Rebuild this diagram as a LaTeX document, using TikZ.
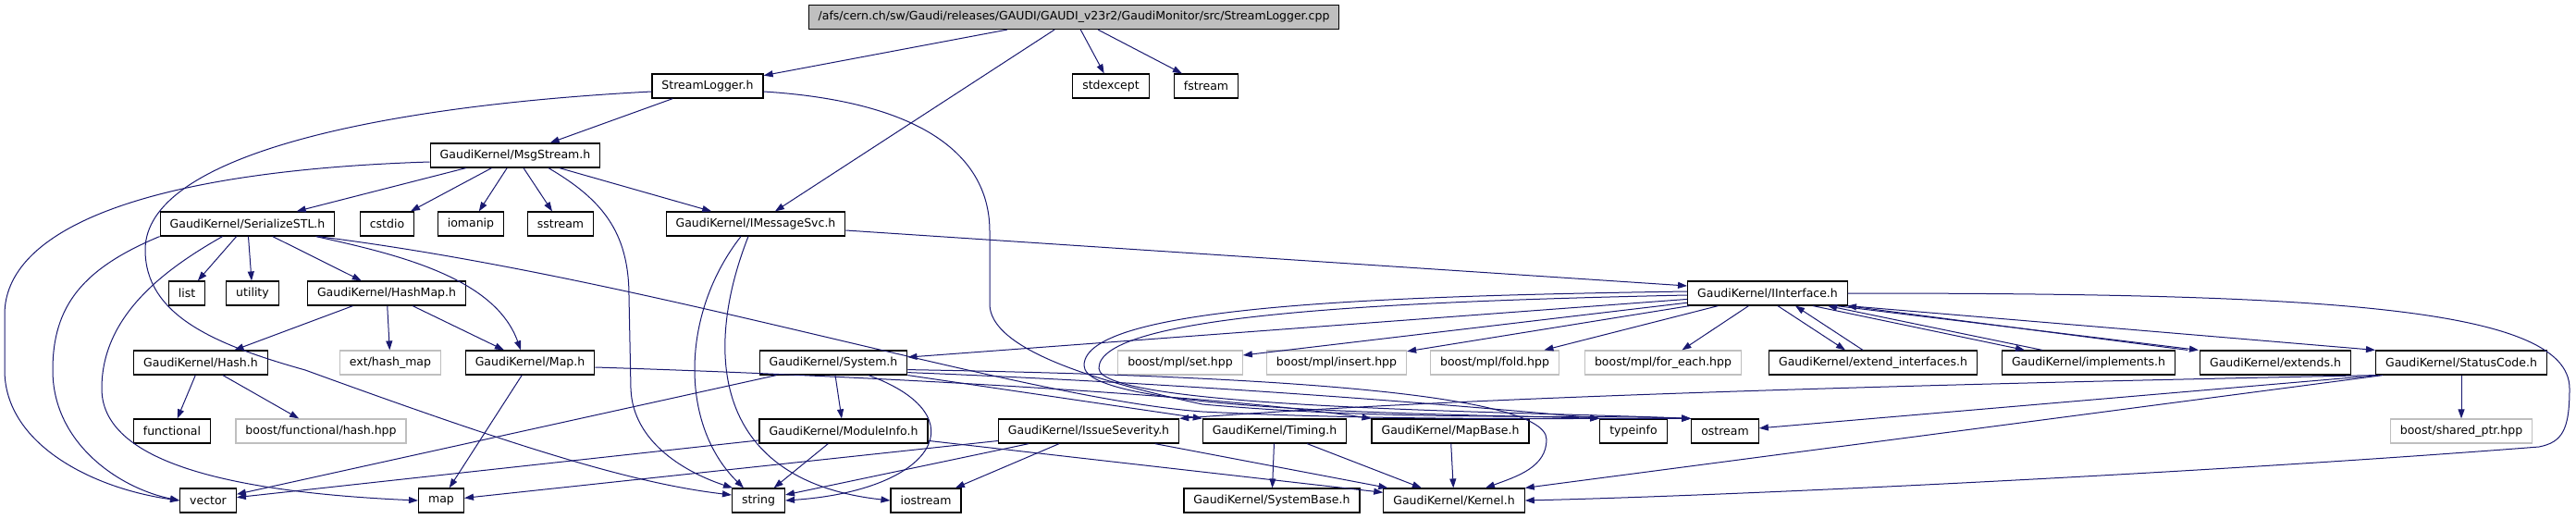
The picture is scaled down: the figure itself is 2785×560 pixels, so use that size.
\documentclass[tikz,border=0pt]{standalone}
\usepackage{fontspec}
\setmainfont{DejaVu Sans}
\usetikzlibrary{arrows.meta}
\definecolor{edgeblue}{HTML}{191970}
\definecolor{boxgray}{HTML}{BFBFBF}
\tikzset{
  hdr/.style={draw=black, fill=white, line width=1.2pt, rectangle, minimum height=26pt,
    inner xsep=10.5pt, inner ysep=0pt, font=\fontsize{12.5}{15}\selectfont},
  syshdr/.style={hdr, draw=boxgray},
  srcfile/.style={hdr, fill=boxgray},
  inc/.style={draw=edgeblue, line width=1pt, -{Triangle[length=10pt,width=7pt]}},
}
\begin{document}
\begin{tikzpicture}[x=1pt,y=-1pt]
\useasboundingbox (0,0) rectangle (2785,560);

\node[srcfile] (root) at (1161,18.5) {/afs/cern.ch/sw/Gaudi/releases/GAUDI/GAUDI\_v23r2/GaudiMonitor/src/StreamLogger.cpp};
\node[hdr] (slh) at (765,93) {StreamLogger.h};
\node[hdr] (stdexcept) at (1201,93) {stdexcept};
\node[hdr] (fstream) at (1304,93) {fstream};
\node[hdr] (msg) at (557,168) {GaudiKernel/MsgStream.h};
\node[hdr] (ser) at (267.5,242) {GaudiKernel/SerializeSTL.h};
\node[hdr] (cstdio) at (418.5,242) {cstdio};
\node[hdr] (iomanip) at (509,242) {iomanip};
\node[hdr] (sstream) at (606,242) {sstream};
\node[hdr] (msvc) at (817,242) {GaudiKernel/IMessageSvc.h};
\node[hdr] (list) at (202,317) {list};
\node[hdr] (utility) at (273,317) {utility};
\node[hdr] (hashmap) at (418,317) {GaudiKernel/HashMap.h};
\node[hdr] (iint) at (1911,317) {GaudiKernel/IInterface.h};
\node[hdr] (hash) at (217,392) {GaudiKernel/Hash.h};
\node[syshdr] (exthm) at (422,392) {ext/hash\_map};
\node[hdr] (mapH) at (573,392) {GaudiKernel/Map.h};
\node[hdr] (sys) at (901,392) {GaudiKernel/System.h};
\node[syshdr] (mplset) at (1276,392) {boost/mpl/set.hpp};
\node[syshdr] (mplins) at (1445,392) {boost/mpl/insert.hpp};
\node[syshdr] (mplfold) at (1616,392) {boost/mpl/fold.hpp};
\node[syshdr] (mplfe) at (1798,392) {boost/mpl/for\_each.hpp};
\node[hdr] (extif) at (2025,392) {GaudiKernel/extend\_interfaces.h};
\node[hdr] (impl) at (2258,392) {GaudiKernel/implements.h};
\node[hdr] (ext) at (2460,392) {GaudiKernel/extends.h};
\node[hdr] (sc) at (2661,392) {GaudiKernel/StatusCode.h};
\node[hdr] (functional) at (186,466) {functional};
\node[syshdr] (bfh) at (347,466) {boost/functional/hash.hpp};
\node[hdr] (modinfo) at (912,466) {GaudiKernel/ModuleInfo.h};
\node[hdr] (issue) at (1177,466) {GaudiKernel/IssueSeverity.h};
\node[hdr] (timing) at (1378,466) {GaudiKernel/Timing.h};
\node[hdr] (mapbase) at (1568,466) {GaudiKernel/MapBase.h};
\node[hdr] (typeinfo) at (1766,466) {typeinfo};
\node[hdr] (ostream) at (1865,466) {ostream};
\node[syshdr] (bsp) at (2661,466) {boost/shared\_ptr.hpp};
\node[hdr] (vector) at (225,541) {vector};
\node[hdr] (stdmap) at (477,541) {map};
\node[hdr] (string) at (820,541) {string};
\node[hdr] (iostream) at (1001,541) {iostream};
\node[hdr] (sysbase) at (1375,541) {GaudiKernel/SystemBase.h};
\node[hdr] (kernel) at (1572,541) {GaudiKernel/Kernel.h};

\draw[inc] (root) -- (slh);
\draw[inc] (root) -- (msvc);
\draw[inc] (root) -- (stdexcept);
\draw[inc] (root) -- (fstream);

\draw[inc] (slh) -- (msg);
\draw[inc] ([yshift=-6pt]slh.west) .. controls (400,115) and (157,170) .. (157,270) .. controls (157,340) and (230,372) .. (330,400) .. controls (550,480) and (680,522) .. ([yshift=6pt]string.west);
\draw[inc] ([yshift=-6pt]slh.east) .. controls (1000,110) and (1070,170) .. (1070,250) -- (1070,330) .. controls (1072,370) and (1150,405) .. (1300,437) .. controls (1500,455) and (1700,448) .. (ostream.north west);

\draw[inc] (msg) -- (ser);
\draw[inc] (msg) -- (cstdio);
\draw[inc] (msg) -- (iomanip);
\draw[inc] (msg) -- (sstream);
\draw[inc] (msg) -- (msvc);
\draw[inc] ([xshift=36pt]msg.south) .. controls (650,215) and (680,250) .. (680,320) -- (682,420) .. controls (684,480) and (745,512) .. ([xshift=-28pt]string.north);
\draw[inc] ([yshift=-7pt]msg.west) .. controls (150,185) and (5,250) .. (5,340) -- (5,400) .. controls (5,480) and (100,528) .. (vector.west);

\draw[inc] (ser.south west) .. controls (90,290) and (57,330) .. (57,400) .. controls (57,480) and (130,528) .. (vector.west);
\draw[inc] ([xshift=-27pt]ser.south) .. controls (180,290) and (110,340) .. (110,420) .. controls (110,500) and (250,532) .. (stdmap.west);
\draw[inc] (ser) -- (list);
\draw[inc] (ser) -- (utility);
\draw[inc] (ser) -- (hashmap);
\draw[inc] ([xshift=74pt]ser.south) .. controls (430,275) and (535,300) .. ([xshift=-10pt]mapH.north);
\draw[inc] ([xshift=76pt]ser.south) .. controls (700,300) and (1100,430) .. (1300,445) .. controls (1500,455) and (1700,452) .. (ostream.north west);

\draw[inc] (hashmap) -- (hash);
\draw[inc] (hashmap) -- (exthm);
\draw[inc] (hashmap) -- (mapH);
\draw[inc] (hash) -- (functional);
\draw[inc] (hash) -- (bfh);
\draw[inc] (mapH) -- (stdmap);
\draw[inc] ([yshift=-5pt]mapH.east) .. controls (900,405) and (1300,425) .. (mapbase.north west);

\draw[inc] ([yshift=-7pt]msvc.east) -- ([yshift=8pt]iint.west);
\draw[inc] ([xshift=-16pt]msvc.south) .. controls (735,340) and (735,460) .. ([xshift=-16pt]string.north);
\draw[inc] ([xshift=-8pt]msvc.south) .. controls (760,380) and (770,520) .. (iostream.west);

\draw[inc] (iint) -- (sys);
\draw[inc] (iint) -- (mplset);
\draw[inc] (iint) -- (mplins);
\draw[inc] (iint) -- (mplfold);
\draw[inc] (iint) -- (mplfe);
\draw[inc] ([xshift=11pt]iint.south) -- ([xshift=-30pt]extif.north);
\draw[inc] ([xshift=-11pt]extif.north) -- ([xshift=30pt]iint.south);
\draw[inc] ([xshift=49pt]iint.south) -- ([xshift=-69pt]impl.north);
\draw[inc] ([xshift=-50pt]impl.north) -- ([xshift=65pt]iint.south);
\draw[inc] ([xshift=74pt]iint.south) -- ([xshift=-83pt]ext.north);
\draw[inc] ([xshift=-95pt]ext.north) -- ([xshift=86pt]iint.south);
\draw[inc] (iint.south east) -- (sc.north west);
\draw[inc] ([yshift=2pt]iint.west) .. controls (1500,320) and (1172,330) .. (1172,395) .. controls (1172,445) and (1550,447) .. (typeinfo.north west);
\draw[inc] ([yshift=-2pt]iint.west) .. controls (1500,326) and (1188,340) .. (1188,398) .. controls (1188,442) and (1650,445) .. (ostream.north west);
\draw[inc] (iint.east) .. controls (2500,317) and (2778,330) .. (2778,420) .. controls (2778,465) and (2770,478) .. (2745,483) .. controls (2400,510) and (1900,535) .. (kernel.east);

\draw[inc] (sys) -- (modinfo);
\draw[inc] (sys) -- (vector);
\draw[inc] ([xshift=38pt]sys.south) .. controls (1060,450) and (1010,530) .. (string.east);
\draw[inc] (sys.south east) -- (timing.north west);
\draw[inc] ([yshift=3pt]sys.south east) .. controls (1300,415) and (1600,440) .. (typeinfo.north west);
\draw[inc] ([yshift=6pt]sys.south east) .. controls (1300,405) and (1672,420) .. (1672,475) .. controls (1672,505) and (1640,515) .. ([xshift=34pt]kernel.north);

\draw[inc] (modinfo) -- (vector);
\draw[inc] (modinfo) -- (string);
\draw[inc] (modinfo) -- (kernel);

\draw[inc] (issue) -- (stdmap);
\draw[inc] (issue) -- (string);
\draw[inc] (issue) -- (iostream);
\draw[inc] (issue) -- (kernel);

\draw[inc] (timing) -- (sysbase);
\draw[inc] (timing) -- (kernel);
\draw[inc] (mapbase) -- (kernel);

\draw[inc] (sc.south west) .. controls (2100,415) and (1600,428) .. (issue.north east);
\draw[inc] ([xshift=4pt]sc.south west) -- (ostream);
\draw[inc] ([xshift=8pt]sc.south west) -- (kernel.north east);
\draw[inc] (sc) -- (bsp);
\end{tikzpicture}
\end{document}
